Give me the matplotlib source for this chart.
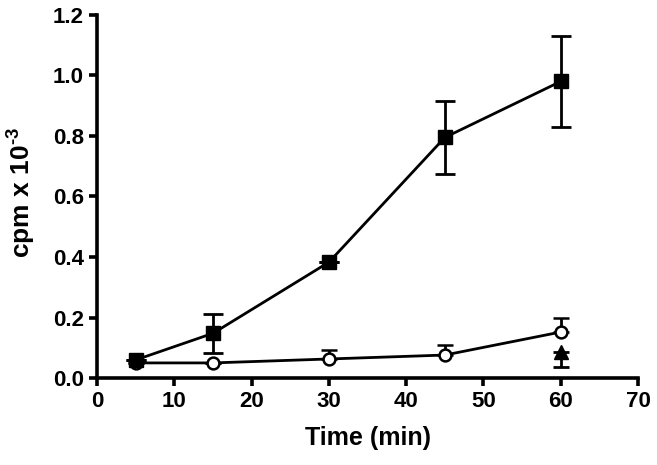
import numpy as np
import matplotlib
matplotlib.use("Agg")
import matplotlib.pyplot as plt

# Time course data
time = [5, 15, 30, 45, 60]
sq_y = [0.06, 0.148, 0.383, 0.795, 0.98]
sq_err = [0.0, 0.065, 0.0, 0.12, 0.15]
circ_y = [0.05, 0.05, 0.063, 0.076, 0.152]
circ_err_up = [0.0, 0.0, 0.03, 0.033, 0.048]
tri_x = [60]
tri_y = [0.085]
tri_err_down = [0.05]

plt.rcParams['font.family'] = ['Liberation Sans', 'DejaVu Sans']
plt.rcParams['font.weight'] = 'bold'
plt.rcParams['mathtext.fontset'] = 'custom'
plt.rcParams['mathtext.rm'] = 'Liberation Sans:bold'
plt.rcParams['mathtext.bf'] = 'Liberation Sans:bold'

fig = plt.figure(figsize=(6.57, 4.65), dpi=100)
ax = fig.add_axes([0.148, 0.187, 0.823, 0.781])

lw = 2.0
ax.errorbar(time, circ_y, yerr=[np.zeros(len(circ_err_up)), circ_err_up],
            fmt='o', ms=8.5, mfc='white', mec='black', mew=1.8, color='black',
            ls='-', lw=lw, capsize=6, capthick=lw, elinewidth=lw, zorder=3)
ax.errorbar(time, sq_y, yerr=sq_err, fmt='s', ms=10.5, color='black',
            ls='-', lw=lw, capsize=7, capthick=lw, elinewidth=lw, zorder=4)
ax.errorbar(tri_x, tri_y, yerr=[tri_err_down, [0]], fmt='^', ms=10, color='black',
            capsize=6, capthick=lw, elinewidth=lw, zorder=4)

ax.set_xlim(0, 70)
ax.set_ylim(0, 1.2)
ax.set_xticks(range(0, 71, 10))
ax.set_yticks([0.0, 0.2, 0.4, 0.6, 0.8, 1.0, 1.2])
ax.set_yticklabels(['0.0', '0.2', '0.4', '0.6', '0.8', '1.0', '1.2'])

for s in ['top', 'right']:
    ax.spines[s].set_visible(False)
for s in ['left', 'bottom']:
    ax.spines[s].set_linewidth(2.6)
ax.tick_params(width=2.6, length=6, labelsize=16, direction='out')
for lab in ax.get_xticklabels() + ax.get_yticklabels():
    lab.set_fontweight('bold')

ax.set_xlabel('Time (min)', fontsize=18, fontweight='bold', labelpad=10)
ax.set_ylabel('cpm x 10$^{\\text{-3}}$', fontsize=19, fontweight='bold')
ax.yaxis.set_label_coords(-0.112, 0.51)

fig.savefig('out.png', dpi=100)
